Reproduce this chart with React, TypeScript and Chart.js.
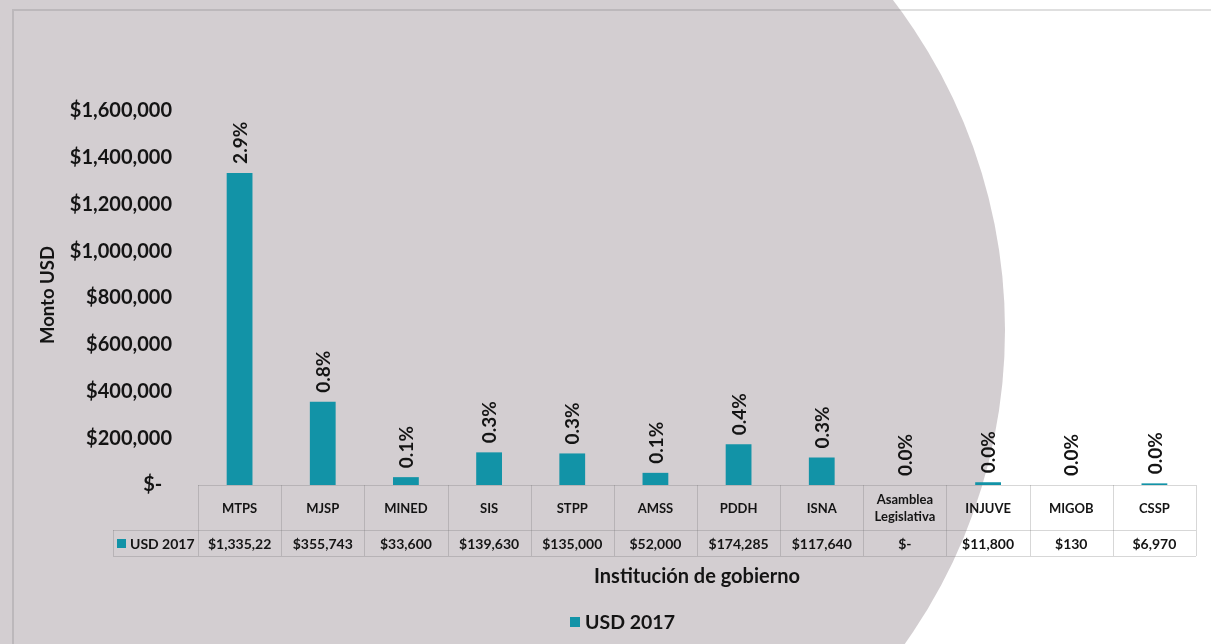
import React, { useEffect, useRef } from "react";
import { Chart, registerables } from "chart.js";

Chart.register(...registerables);

// ---- data ----
const categories: string[][] = [
  ["MTPS"], ["MJSP"], ["MINED"], ["SIS"], ["STPP"], ["AMSS"], ["PDDH"], ["ISNA"],
  ["Asamblea", "Legislativa"], ["INJUVE"], ["MIGOB"], ["CSSP"],
];
const seriesName = "USD 2017";
const usd2017 = [1335220, 355743, 33600, 139630, 135000, 52000, 174285, 117640, 0, 11800, 130, 6970];
const sharePct = [2.9, 0.8, 0.1, 0.3, 0.3, 0.1, 0.4, 0.3, 0.0, 0.0, 0.0, 0.0];
const yMax = 1600000;
const yStep = 200000;
const yAxisTitle = "Monto USD";
const xAxisTitle = "Institución de gobierno";

const FONT = "Lato, 'Open Sans', 'DejaVu Sans', sans-serif";
const BAR = "#1293a7";
const BG_GREY = "#d3ced1";
const TEXT = "#141414";

const fmtMoney = (v: number) => (v === 0 ? "$-" : "$" + v.toLocaleString("en-US"));

export default function App() {
  const ref = useRef<HTMLCanvasElement | null>(null);

  useEffect(() => {
    document.body.style.margin = "0";
    const canvas = ref.current;
    if (!canvas) return;

    const bgPlugin = {
      id: "bg",
      beforeDraw(chart: any) {
        const { ctx, width, height } = chart;
        ctx.save();
        ctx.fillStyle = "#ffffff";
        ctx.fillRect(0, 0, width, height);
        ctx.fillStyle = BG_GREY;
        ctx.fillRect(0, 0, 463, height);
        ctx.beginPath();
        ctx.arc(463, 330, 542, 0, Math.PI * 2);
        ctx.fill();
        ctx.strokeStyle = "rgba(110,110,110,0.22)";
        ctx.lineWidth = 2;
        ctx.beginPath();
        ctx.moveTo(13, height);
        ctx.lineTo(13, 10);
        ctx.lineTo(width, 10);
        ctx.stroke();
        ctx.restore();
      },
    };

    const overlayPlugin = {
      id: "overlay",
      afterDatasetsDraw(chart: any) {
        const { ctx } = chart;
        const meta = chart.getDatasetMeta(0);
        ctx.save();
        ctx.fillStyle = TEXT;
        ctx.font = `bold 19px ${FONT}`;
        ctx.textAlign = "left";
        ctx.textBaseline = "middle";
        meta.data.forEach((el: any, i: number) => {
          ctx.save();
          ctx.translate(el.x + 1, el.y - 9);
          ctx.rotate(-Math.PI / 2);
          ctx.fillText(sharePct[i].toFixed(1) + "%", 0, 0);
          ctx.restore();
        });
        ctx.restore();
      },
      afterDraw(chart: any) {
        const { ctx } = chart;
        const xs = chart.scales.x;
        const area = chart.chartArea;
        const n = categories.length;
        const cw = (area.right - area.left) / n;
        const top = area.bottom;
        const mid = top + 45;
        const bot = mid + 26;
        const labelLeft = 113;

        ctx.save();
        // table borders
        ctx.strokeStyle = "rgba(110,110,110,0.28)";
        ctx.lineWidth = 1;
        ctx.beginPath();
        ctx.moveTo(area.left, top + 0.5);
        ctx.lineTo(area.right, top + 0.5);
        ctx.moveTo(labelLeft, mid + 0.5);
        ctx.lineTo(area.right, mid + 0.5);
        ctx.moveTo(labelLeft, bot + 0.5);
        ctx.lineTo(area.right, bot + 0.5);
        ctx.moveTo(labelLeft + 0.5, mid);
        ctx.lineTo(labelLeft + 0.5, bot);
        for (let i = 0; i <= n; i++) {
          const x = Math.round(xs.getPixelForValue(i) - cw / 2) + 0.5;
          ctx.moveTo(x, top);
          ctx.lineTo(x, bot);
        }
        ctx.stroke();

        // header row
        ctx.fillStyle = TEXT;
        ctx.textAlign = "center";
        ctx.textBaseline = "middle";
        ctx.font = `bold 13px ${FONT}`;
        categories.forEach((lines, i) => {
          const x = xs.getPixelForValue(i);
          const lh = 17;
          const y0 = (top + mid) / 2 + 1 - ((lines.length - 1) * lh) / 2;
          lines.forEach((t, k) => ctx.fillText(t, x, y0 + k * lh));
        });

        // values row
        ctx.font = `bold 14px ${FONT}`;
        usd2017.forEach((v, i) => {
          const x = xs.getPixelForValue(i);
          let t = fmtMoney(v);
          while (ctx.measureText(t).width > cw - 16 && t.length > 1) t = t.slice(0, -1);
          ctx.fillText(t, x, (mid + bot) / 2 + 1);
        });

        // series label cell
        ctx.fillStyle = BAR;
        ctx.fillRect(labelLeft + 4, (mid + bot) / 2 - 4, 9, 9);
        ctx.fillStyle = TEXT;
        ctx.textAlign = "left";
        ctx.fillText(seriesName, labelLeft + 17, (mid + bot) / 2 + 1);

        // axis titles
        ctx.font = `bold 20px ${FONT}`;
        ctx.textAlign = "center";
        ctx.fillText(xAxisTitle, 697, 577);
        ctx.save();
        ctx.translate(48, 295);
        ctx.rotate(-Math.PI / 2);
        ctx.font = `bold 18.5px ${FONT}`;
        ctx.fillText(yAxisTitle, 0, 0);
        ctx.restore();

        // legend
        ctx.fillStyle = BAR;
        ctx.fillRect(570, 617, 10, 10);
        ctx.fillStyle = TEXT;
        ctx.textAlign = "left";
        ctx.font = `bold 19.5px ${FONT}`;
        ctx.fillText(seriesName, 585, 623);
        ctx.restore();
      },
    };

    const chart = new Chart(canvas, {
      type: "bar",
      data: {
        labels: categories.map((c) => c.join(" ")),
        datasets: [
          {
            label: seriesName,
            data: usd2017,
            backgroundColor: BAR,
            barPercentage: 0.31,
            categoryPercentage: 1,
          },
        ],
      },
      options: {
        animation: false,
        responsive: false,
        layout: { padding: { top: 111, bottom: 159, left: 0, right: 15 } },
        plugins: {
          legend: { display: false },
          tooltip: { enabled: false },
        },
        scales: {
          x: { display: false },
          y: {
            min: 0,
            max: yMax,
            afterFit: (scale: any) => {
              scale.width = 198;
            },
            ticks: {
              stepSize: yStep,
              padding: 26,
              color: TEXT,
              font: { family: FONT, size: 20, weight: "bold" },
              callback: (v: any) => (Number(v) === 0 ? "$-  " : fmtMoney(Number(v))),
            },
            grid: { display: false, drawTicks: false },
            border: { display: false },
          },
        },
      },
      plugins: [bgPlugin, overlayPlugin],
    });

    return () => chart.destroy();
  }, []);

  return <canvas ref={ref} width={1211} height={644} style={{ display: "block" }} />;
}
